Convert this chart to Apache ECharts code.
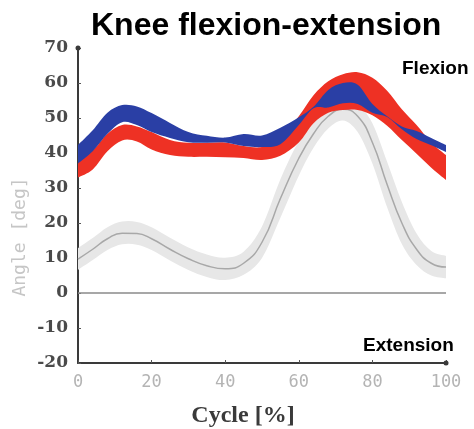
<!DOCTYPE html>
<html><head><meta charset="utf-8">
<script src="https://cdn.jsdelivr.net/npm/echarts@6/dist/echarts.min.js"></script>
<style>html,body{margin:0;padding:0;background:#fff}#c{width:474px;height:429px}</style>
</head><body><div id="c"></div>
<script>
// ---- data ----
const cycle     = [0, 4, 8, 12, 16, 20, 25, 30, 35, 40, 45, 50, 55, 60, 64, 68, 72, 76, 80, 84, 88, 92, 96, 100];
const grayMean  = [9.7, 12.5, 15.5, 17.1, 17, 15.5, 12.5, 9.8, 7.8, 6.9, 8.5, 14.5, 27, 38.5, 45.5, 50.5, 52.5, 50.5, 43, 31, 20, 12.5, 8.5, 7.4];
const grayLow   = [6.6, 9.4, 12.3, 13.9, 13.8, 12.3, 9.3, 6.6, 4.6, 3.7, 5.2, 10, 21.5, 33.5, 41.5, 47, 49.3, 46, 37, 24.5, 14, 8, 5, 4.2];
const grayHigh  = [12.8, 15.7, 18.8, 20.4, 20.3, 18.8, 15.8, 13, 11, 10.1, 11.8, 19, 32.5, 43.5, 49.5, 54, 55.7, 54, 48.5, 37.5, 26, 17, 12, 10.6];
const blueLow   = [37, 40.5, 45.5, 48.8, 48, 46, 44.3, 43.1, 42.9, 43, 42, 41.7, 42.5, 48, 52.8, 53, 54.2, 54, 51.5, 50.3, 46.8, 44, 42.2, 40.3];
const blueHigh  = [42.3, 46.5, 51.5, 53.7, 53.3, 51.4, 48.6, 46, 44.9, 44.4, 45.4, 45, 47.2, 50.2, 53.2, 58, 60, 59.5, 54, 50.5, 47.6, 46.3, 44.3, 42.3];
const redLow    = [33, 35.3, 40.5, 43.6, 43.3, 41, 39.4, 38.9, 38.9, 38.8, 38.6, 38, 39.2, 43, 48.5, 51.5, 52.3, 52.3, 50.8, 47.8, 43.7, 39.8, 35.8, 32.3];
const redHigh   = [38.9, 40.8, 45.5, 48, 47.6, 46, 43.7, 42.9, 42.9, 43, 42, 41.7, 44, 50.5, 56.5, 60.5, 62.5, 63.1, 61.5, 57.8, 52.5, 48, 43, 39.4];
const xTicks    = [0, 20, 40, 60, 80, 100];
const yTicks    = [-20, -10, 0, 10, 20, 30, 40, 50, 60, 70];

// Catmull-Rom spline through pixel points -> SVG path commands
function splinePath(p, start) {
  let d = (start ? 'M' : 'L') + p[0][0].toFixed(2) + ' ' + p[0][1].toFixed(2);
  for (let i = 0; i < p.length - 1; i++) {
    const p0 = p[i - 1] || p[i], p1 = p[i], p2 = p[i + 1], p3 = p[i + 2] || p[i + 1];
    const c1 = [p1[0] + (p2[0] - p0[0]) / 6, p1[1] + (p2[1] - p0[1]) / 6];
    const c2 = [p2[0] - (p3[0] - p1[0]) / 6, p2[1] - (p3[1] - p1[1]) / 6];
    d += ' C' + c1[0].toFixed(2) + ' ' + c1[1].toFixed(2) + ' ' + c2[0].toFixed(2) + ' ' + c2[1].toFixed(2) + ' ' + p2[0].toFixed(2) + ' ' + p2[1].toFixed(2);
  }
  return d;
}

function bandSeries(name, lo, hi, color, z) {
  return {
    type: 'custom', name: name, z: z, silent: true, clip: true,
    data: cycle.map((x, i) => [x, lo[i], hi[i]]),
    encode: {x: 0, y: [1, 2]},
    renderItem: function (params, api) {
      if (params.dataIndex !== 0) return null;
      const top = cycle.map((x, i) => api.coord([x, hi[i]]));
      const bot = cycle.map((x, i) => api.coord([x, lo[i]])).reverse();
      const d = splinePath(top, true) + ' ' + splinePath(bot, false) + ' Z';
      return {type: 'path', shape: {pathData: d}, style: {fill: color}};
    }
  };
}

const chart = echarts.init(document.getElementById('c'));
chart.setOption({
  animation: false,
  grid: {left: 78, right: 28, top: 48, bottom: 66},
  xAxis: {
    type: 'value', min: xTicks[0], max: xTicks[xTicks.length - 1], interval: 20,
    axisLine: {onZero: false, lineStyle: {color: '#3a3a3a', width: 2}, symbol: ['none', 'circle'], symbolSize: [5, 5]},
    axisTick: {inside: true, length: 3, lineStyle: {color: '#555'}},
    splitLine: {show: false},
    axisLabel: {margin: 11, color: '#b4b4b4', fontFamily: 'DejaVu Sans Mono', fontSize: 17}
  },
  yAxis: {
    type: 'value', min: yTicks[0], max: yTicks[yTicks.length - 1], interval: 10,
    axisLine: {show: true, onZero: false, lineStyle: {color: '#3a3a3a', width: 2}, symbol: ['none', 'circle'], symbolSize: [5, 5]},
    axisTick: {show: true, inside: true, length: 3, lineStyle: {color: '#555'}},
    splitLine: {show: false},
    axisLabel: {margin: 10, color: '#4a4a4a', fontFamily: 'DejaVu Serif', fontWeight: 'bold', fontSize: 17}
  },
  series: [
    bandSeries('grayBand', grayLow, grayHigh, '#e7e7e7', 1),
    {type: 'line', name: 'grayMean', data: cycle.map((x, i) => [x, grayMean[i]]), symbol: 'none', smooth: 0.5, z: 2,
     lineStyle: {color: '#a8a8a8', width: 1.5}, silent: true,
     markLine: {silent: true, symbol: 'none', label: {show: false},
       lineStyle: {color: '#8a8a8a', width: 1.5, type: 'solid'}, data: [{yAxis: 0}]}},
    bandSeries('redBand', redLow, redHigh, '#ee3124', 3),
    bandSeries('blueBand', blueLow, blueHigh, '#2a3fa5', 4)
  ],
  graphic: [
    {type: 'text', left: 91, top: 10, style: {text: 'Knee flexion-extension', font: 'bold 32px "Liberation Sans"', fill: '#000'}},
    {type: 'text', x: 402, y: 68.5, z: 10, style: {text: 'Flexion', font: 'bold 19px "Liberation Sans"', fill: '#000', verticalAlign: 'middle'}},
    {type: 'text', x: 363, y: 345.5, z: 10, style: {text: 'Extension', font: 'bold 19px "Liberation Sans"', fill: '#000', verticalAlign: 'middle'}},
    {type: 'text', x: 243, y: 416, style: {text: 'Cycle [%]', font: 'bold 24px "Liberation Serif"', fill: '#3a3a3a', align: 'center', verticalAlign: 'middle'}},
    {type: 'text', x: 20, y: 237, rotation: Math.PI / 2, style: {text: 'Angle [deg]', font: '18px "DejaVu Sans Mono"', fill: '#c6c6c6', align: 'center', verticalAlign: 'middle'}}
  ]
});
</script>
</body></html>
